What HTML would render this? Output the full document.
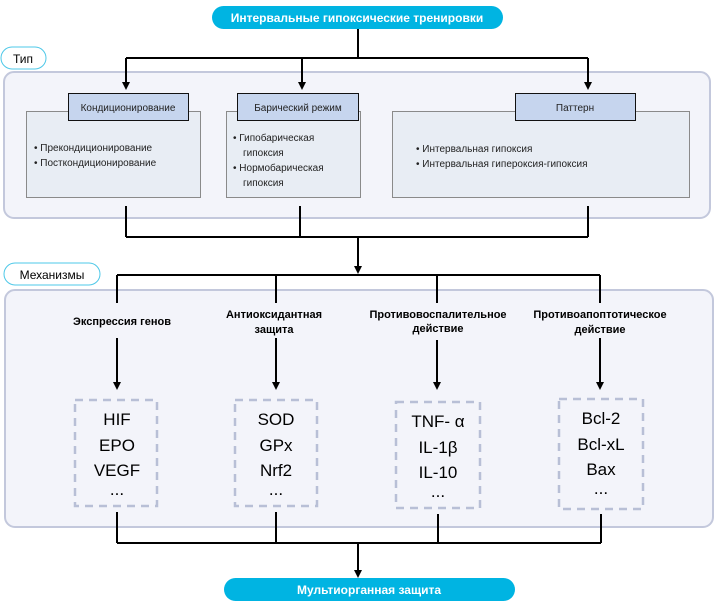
<!DOCTYPE html>
<html><head><meta charset="utf-8"><style>
body{margin:0;background:#fff;}
svg{display:block;font-family:"Liberation Sans",sans-serif;}
</style></head><body>
<svg width="719" height="604" viewBox="0 0 719 604" xmlns="http://www.w3.org/2000/svg">
<defs><marker id="a" markerWidth="8" markerHeight="8" refX="4" refY="4" orient="auto" markerUnits="userSpaceOnUse"><path d="M0,0 L8,4 L0,8 z" fill="#000"/></marker></defs>
<!-- panels -->
<rect x="4" y="72" width="706" height="146" rx="10" fill="#f3f4fa" stroke="#c3c8dc" stroke-width="2"/>
<rect x="5" y="290" width="708" height="237" rx="10" fill="#f3f4fa" stroke="#c3c8dc" stroke-width="2"/>
<!-- pills -->
<rect x="212" y="6" width="291" height="23" rx="11.5" fill="#00b4e2"/>
<text x="357" y="22" text-anchor="middle" font-size="12" font-weight="bold" fill="#fff">Интервальные гипоксические тренировки</text>
<rect x="1" y="47" width="45" height="22" rx="11" fill="#fff" stroke="#4ec8e8"/>
<text x="23" y="63" text-anchor="middle" font-size="12">Тип</text>
<rect x="4" y="263" width="96" height="22" rx="11" fill="#fff" stroke="#4ec8e8"/>
<text x="52" y="279" text-anchor="middle" font-size="12">Механизмы</text>
<rect x="224" y="578" width="291" height="23" rx="11.5" fill="#00b4e2"/>
<text x="369" y="594" text-anchor="middle" font-size="12" font-weight="bold" fill="#fff">Мультиорганная защита</text>
<!-- top connectors -->
<g stroke="#000" stroke-width="2" fill="none">
<path d="M358 29 V58 M126 58 H588"/>
<path d="M126 58 V86" marker-end="url(#a)"/>
<path d="M302 58 V86" marker-end="url(#a)"/>
<path d="M588 58 V86" marker-end="url(#a)"/>
<path d="M126 206 V237 M300 206 V237 M588 206 V237 M126 237 H588"/>
<path d="M358 237 V270" marker-end="url(#a)"/>
<path d="M117 275 H600 M117 275 V303 M276 275 V303 M437 275 V303 M600 275 V303"/>
<path d="M117 338 V386" marker-end="url(#a)"/>
<path d="M276 338 V386" marker-end="url(#a)"/>
<path d="M437 340 V386" marker-end="url(#a)"/>
<path d="M600 338 V386" marker-end="url(#a)"/>
<path d="M117 512 V543 M276 512 V543 M438 514 V543 M601 514 V543 M117 543 H601"/>
<path d="M358 543 V574" marker-end="url(#a)"/>
</g>
<!-- type boxes -->
<g stroke="#8a8a8a" fill="#e8edf4">
<rect x="26.5" y="111.5" width="174" height="86"/>
<rect x="226.5" y="111.5" width="134" height="86"/>
<rect x="392.5" y="111.5" width="297" height="86"/>
</g>
<g stroke="#111" fill="#c6d5ee">
<rect x="68.5" y="93.5" width="120" height="27"/>
<rect x="237.5" y="93.5" width="121" height="27"/>
<rect x="515.5" y="93.5" width="120" height="27"/>
</g>
<g font-size="10" fill="#222">
<text x="128" y="111" text-anchor="middle">Кондиционирование</text>
<text x="298" y="111" text-anchor="middle">Барический режим</text>
<text x="575" y="111" text-anchor="middle">Паттерн</text>
<text x="34" y="151">•  Прекондиционирование</text>
<text x="34" y="166">•  Посткондиционирование</text>
<text x="233" y="141">•  Гипобарическая</text>
<text x="243" y="156">гипоксия</text>
<text x="233" y="171">•  Нормобарическая</text>
<text x="243" y="186">гипоксия</text>
<text x="416" y="152">•  Интервальная гипоксия</text>
<text x="416" y="167">•  Интервальная гипероксия-гипоксия</text>
</g>
<!-- mechanism headings -->
<g font-size="11" font-weight="bold" text-anchor="middle">
<text x="122" y="325">Экспрессия генов</text>
<text x="274" y="318">Антиоксидантная</text>
<text x="274" y="333">защита</text>
<text x="438" y="318">Противовоспалительное</text>
<text x="438" y="332">действие</text>
<text x="600" y="318">Противоапоптотическое</text>
<text x="600" y="333">действие</text>
</g>
<!-- dashed boxes -->
<g stroke="#b8bfd6" stroke-width="2.5" stroke-dasharray="8,6" fill="none">
<rect x="75" y="400" width="82" height="106"/>
<rect x="235" y="400" width="82" height="106"/>
<rect x="396" y="402" width="84" height="106"/>
<rect x="559" y="399" width="84" height="110"/>
</g>
<g font-size="17" text-anchor="middle" fill="#000">
<text x="117" y="425">HIF</text><text x="117" y="451">EPO</text><text x="117" y="476">VEGF</text><text x="117" y="495">...</text>
<text x="276" y="425">SOD</text><text x="276" y="451">GPx</text><text x="276" y="476">Nrf2</text><text x="276" y="495">...</text>
<text x="438" y="427">TNF- α</text><text x="438" y="453">IL-1β</text><text x="438" y="478">IL-10</text><text x="438" y="497">...</text>
<text x="601" y="424">Bcl-2</text><text x="601" y="450">Bcl-xL</text><text x="601" y="475">Bax</text><text x="601" y="494">...</text>
</g>
</svg>
</body></html>
